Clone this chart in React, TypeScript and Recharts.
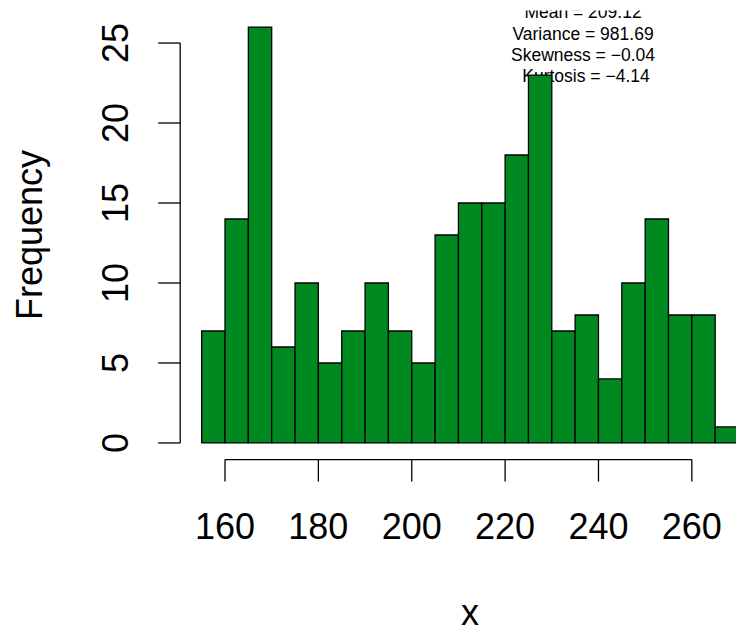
import { ComposedChart, Bar, XAxis, YAxis, ReferenceLine } from 'recharts';

// histogram bins (centre of each 5-wide bin) and their counts
const binCenters = [
  157.5, 162.5, 167.5, 172.5, 177.5, 182.5, 187.5, 192.5, 197.5, 202.5, 207.5, 212.5,
  217.5, 222.5, 227.5, 232.5, 237.5, 242.5, 247.5, 252.5, 257.5, 262.5, 267.5,
];
const counts = [7, 14, 26, 6, 10, 5, 7, 10, 7, 5, 13, 15, 15, 18, 23, 7, 8, 4, 10, 14, 8, 8, 1];
const xTicks = [160, 180, 200, 220, 240, 260];
const yTicks = [0, 5, 10, 15, 20, 25];
const xDomain: [number, number] = [150.4, 274.6];
const yDomain: [number, number] = [-1.04, 27.04];
const statLines = ['Mean = 209.12', 'Variance = 981.69', 'Skewness = \u22120.04', 'Kurtosis = \u22124.14'];

const FONT = '"Liberation Sans", Arial, Helvetica, sans-serif';
const BAR_FILL = '#008920';
const LW = 1.3;

const data = binCenters.map((bin, i) => ({ bin, count: counts[i] }));

// plot box
const W = 760;
const H = 638;
const LEFT = 180.2;
const TOP = 10.4;
const BOTTOM = 459.6;
// a hair under the band size so recharts doesn't shrink the bars
const binPx = (5 * (W - LEFT)) / (xDomain[1] - xDomain[0]) - 0.01;

const XTick = ({ x, y, payload }: any) => (
  <text x={x} y={y + 57.4} textAnchor="middle" fontSize={36} fill="#000" fontFamily={FONT}>
    {payload.value}
  </text>
);

const YTick = ({ x, y, payload }: any) => (
  <text
    x={x - 29.9}
    y={y}
    transform={`rotate(-90, ${x - 29.9}, ${y})`}
    textAnchor="middle"
    fontSize={36}
    fill="#000"
    fontFamily={FONT}
  >
    {payload.value}
  </text>
);

export default function App() {
  return (
    <div style={{ position: 'absolute', left: 0, top: 0, width: 736, height: 638, overflow: 'hidden', background: '#fff' }}>
      {/* stats text and axis titles sit underneath the bars */}
      <svg width={W} height={H} style={{ position: 'absolute', left: 0, top: 0 }}>
        <defs>
          <clipPath id="plotClip">
            <rect x={LEFT} y={TOP} width={W - LEFT} height={BOTTOM - TOP} />
          </clipPath>
        </defs>
        <g clipPath="url(#plotClip)" fontFamily={FONT} fontSize={17.5} fill="#000" textAnchor="middle">
          {statLines.map((s, i) => (
            <text key={s} x={583 + (i === 3 ? 3 : 0)} y={18.3 + i * 21.2}>
              {s}
            </text>
          ))}
        </g>
        <text x={42} y={235} transform="rotate(-90, 42, 235)" textAnchor="middle" fontSize={36} fontFamily={FONT} fill="#000">
          Frequency
        </text>
        <text x={470} y={625} textAnchor="middle" fontSize={36} fontFamily={FONT} fill="#000">
          x
        </text>
      </svg>
      <div style={{ position: 'absolute', left: 0, top: 0 }}>
        <ComposedChart width={W} height={H} data={data} margin={{ top: TOP, right: 0, bottom: 0, left: 0 }}>
          <XAxis
            dataKey="bin"
            type="number"
            domain={xDomain}
            allowDataOverflow
            ticks={xTicks}
            height={H - BOTTOM}
            axisLine={false}
            tickLine={{ stroke: '#000', strokeWidth: LW }}
            tickSize={22}
            tickMargin={0}
            tick={<XTick />}
            interval={0}
          />
          <YAxis
            type="number"
            domain={yDomain}
            allowDataOverflow
            ticks={yTicks}
            width={LEFT}
            axisLine={false}
            tickLine={{ stroke: '#000', strokeWidth: LW }}
            tickSize={22}
            tickMargin={0}
            tick={<YTick />}
            interval={0}
          />
          <Bar dataKey="count" fill={BAR_FILL} stroke="#000" strokeWidth={LW} barSize={binPx} isAnimationActive={false} />
          <ReferenceLine
            segment={[{ x: xDomain[0], y: yTicks[0] }, { x: xDomain[0], y: yTicks[yTicks.length - 1] }]}
            stroke="#000"
            strokeWidth={LW}
            ifOverflow="visible"
          />
          <ReferenceLine
            segment={[{ x: xTicks[0], y: yDomain[0] }, { x: xTicks[xTicks.length - 1], y: yDomain[0] }]}
            stroke="#000"
            strokeWidth={LW}
            ifOverflow="visible"
          />
        </ComposedChart>
      </div>
    </div>
  );
}
